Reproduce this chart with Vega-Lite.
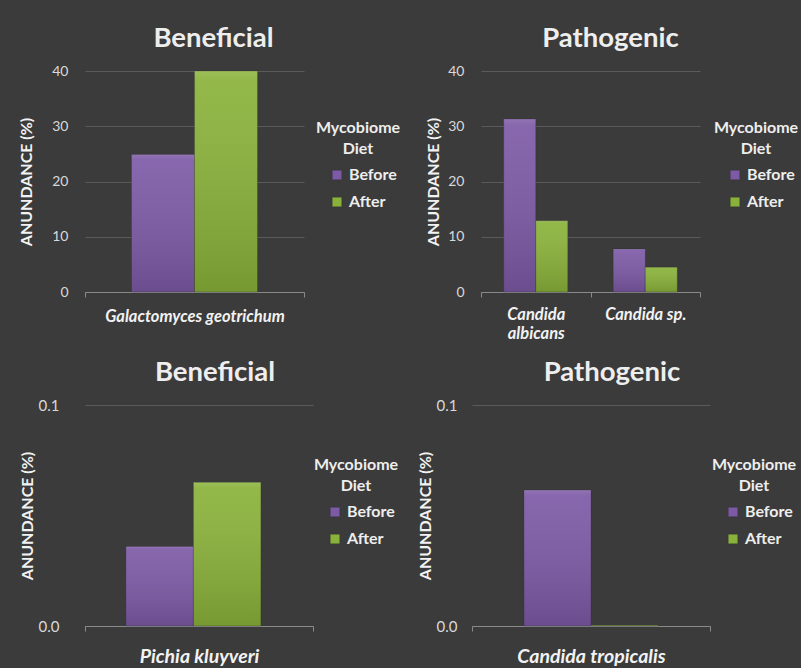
{
  "$schema": "https://vega.github.io/schema/vega-lite/v6.json",
  "background": "#3b3b3b",
  "padding": {"left": 18, "top": 24, "right": 2, "bottom": 2},
  "config": {
    "font": "Lato",
    "view": {"stroke": null},
    "title": {"fontSize": 27.5, "fontWeight": "bold", "color": "#eeeeee", "anchor": "middle", "offset": 12, "font": "Lato"},
    "axis": {"labelColor": "#d9d9d9", "labelFontSize": 14, "titleColor": "#f2f2f2", "titleFontSize": 16, "titleFontWeight": "bold", "gridColor": "#5a5a5a", "domainColor": "#8a8a8a", "tickColor": "#8a8a8a"},
    "axisX": {"tickBand": "extent", "tickSize": 5, "grid": false, "labelAngle": 0, "labelFontStyle": "italic", "labelFontWeight": "bold", "labelColor": "#f2f2f2", "title": null, "labelLimit": 300},
    "legend": {"titleColor": "#eeeeee", "labelColor": "#eeeeee", "titleFontSize": 16, "labelFontSize": 16, "labelFontWeight": "bold", "titleFontWeight": "bold", "symbolType": "square", "symbolSize": 90, "symbolStrokeWidth": 0, "titleAlign": "center", "titleAnchor": "middle", "rowPadding": 11, "titlePadding": 10, "titleLineHeight": 21, "orient": "none", "symbolOffset": 9, "labelOffset": 4},
    "bar": {"stroke": "#2a2a2a", "strokeWidth": 0.6, "strokeOpacity": 0.5}
  },
  "align": "none",
  "resolve": {"legend": {"color": "independent"}, "scale": {"x": "independent", "y": "independent", "color": "independent", "xOffset": "independent"}},
  "spacing": 16,
  "vconcat": [
    {
      "spacing": 24,
      "resolve": {"legend": {"color": "independent"}, "scale": {"x": "independent", "y": "independent", "color": "independent", "xOffset": "independent"}},
      "hconcat": [
        {
          "width": 219, "height": 221,
          "title": {"text": "Beneficial", "dx": 19},
          "data": {"values": [
            {"species": "Galactomyces geotrichum", "diet": "Before", "abundance": 24.9},
            {"species": "Galactomyces geotrichum", "diet": "After", "abundance": 40}
          ]},
          "encoding": {
            "x": {"field": "species", "type": "nominal", "scale": {"paddingInner": 0, "paddingOuter": 0},
              "axis": {"labelFontSize": 16.5, "labelPadding": 11}},
            "xOffset": {"field": "diet", "type": "nominal", "sort": ["Before", "After"], "scale": {"paddingInner": 0, "paddingOuter": 0.738}},
            "y": {"field": "abundance", "type": "quantitative", "scale": {"domain": [0, 40], "nice": false},
              "axis": {"title": "ANUNDANCE (%)", "values": [0, 10, 20, 30, 40], "domain": false, "ticks": false, "labelPadding": 17, "titlePadding": 17}}
          },
          "layer": [
            {"mark": "bar",
             "encoding": {"color": {"field": "diet", "type": "nominal", "sort": ["Before", "After"], "scale": {"domain": ["Before", "After"], "range": ["#7d5aa6", "#8ab23a"]},
              "legend": {"title": ["Mycobiome", "Diet"], "legendX": 231, "legendY": 49}}}},
            {"mark": {"type": "bar", "strokeWidth": 0, "fill": {"gradient": "linear", "x1": 0, "y1": 0, "x2": 0, "y2": 1, "stops": [{"offset": 0, "color": "rgba(255,255,255,0.16)"}, {"offset": 0.04, "color": "rgba(255,255,255,0.08)"}, {"offset": 1, "color": "rgba(0,0,0,0.14)"}]}}}
          ]
        },
        {
          "width": 219, "height": 221,
          "title": {"text": "Pathogenic", "dx": 20},
          "data": {"values": [
            {"species": "Candida albicans", "diet": "Before", "abundance": 31.3},
            {"species": "Candida albicans", "diet": "After", "abundance": 12.9},
            {"species": "Candida sp.", "diet": "Before", "abundance": 7.8},
            {"species": "Candida sp.", "diet": "After", "abundance": 4.5}
          ]},
          "encoding": {
            "x": {"field": "species", "type": "nominal", "scale": {"paddingInner": 0, "paddingOuter": 0},
              "axis": {"labelFontSize": 16.5, "labelPadding": 9,
                "labelExpr": "datum.label == 'Candida albicans' ? ['Candida', 'albicans'] : datum.label", "labelLineHeight": 19}},
            "xOffset": {"field": "diet", "type": "nominal", "sort": ["Before", "After"], "scale": {"paddingInner": 0, "paddingOuter": 0.71}},
            "y": {"field": "abundance", "type": "quantitative", "scale": {"domain": [0, 40], "nice": false},
              "axis": {"title": "ANUNDANCE (%)", "values": [0, 10, 20, 30, 40], "domain": false, "ticks": false, "labelPadding": 17, "titlePadding": 6}}
          },
          "layer": [
            {"mark": "bar",
             "encoding": {"color": {"field": "diet", "type": "nominal", "sort": ["Before", "After"], "scale": {"domain": ["Before", "After"], "range": ["#7d5aa6", "#8ab23a"]},
              "legend": {"title": ["Mycobiome", "Diet"], "legendX": 233, "legendY": 49}}}},
            {"mark": {"type": "bar", "strokeWidth": 0, "fill": {"gradient": "linear", "x1": 0, "y1": 0, "x2": 0, "y2": 1, "stops": [{"offset": 0, "color": "rgba(255,255,255,0.16)"}, {"offset": 0.04, "color": "rgba(255,255,255,0.08)"}, {"offset": 1, "color": "rgba(0,0,0,0.14)"}]}}}
          ]
        }
      ]
    },
    {
      "spacing": 18,
      "resolve": {"legend": {"color": "independent"}, "scale": {"x": "independent", "y": "independent", "color": "independent", "xOffset": "independent"}},
      "hconcat": [
        {
          "width": 228, "height": 221,
          "title": {"text": "Beneficial", "dx": 16},
          "data": {"values": [
            {"species": "Pichia kluyveri", "diet": "Before", "abundance": 0.036},
            {"species": "Pichia kluyveri", "diet": "After", "abundance": 0.065}
          ]},
          "encoding": {
            "x": {"field": "species", "type": "nominal", "scale": {"paddingInner": 0, "paddingOuter": 0},
              "axis": {"labelFontSize": 19.5, "labelPadding": 16, "labelAlign": "center", "labelDx": -8}},
            "xOffset": {"field": "diet", "type": "nominal", "sort": ["Before", "After"], "scale": {"paddingInner": 0, "paddingOuter": 0.689, "align": 0.44}},
            "y": {"field": "abundance", "type": "quantitative", "scale": {"domain": [0, 0.1], "nice": false},
              "axis": {"title": "ANUNDANCE (%)", "values": [0, 0.1], "format": ".1f", "labelFontSize": 15, "domain": false, "ticks": false, "labelPadding": 26, "titlePadding": 3}}
          },
          "layer": [
            {"mark": "bar",
             "encoding": {"color": {"field": "diet", "type": "nominal", "sort": ["Before", "After"], "scale": {"domain": ["Before", "After"], "range": ["#7d5aa6", "#8ab23a"]},
              "legend": {"title": ["Mycobiome", "Diet"], "legendX": 229, "legendY": 52}}}},
            {"mark": {"type": "bar", "strokeWidth": 0, "fill": {"gradient": "linear", "x1": 0, "y1": 0, "x2": 0, "y2": 1, "stops": [{"offset": 0, "color": "rgba(255,255,255,0.16)"}, {"offset": 0.04, "color": "rgba(255,255,255,0.08)"}, {"offset": 1, "color": "rgba(0,0,0,0.14)"}]}}}
          ]
        },
        {
          "width": 238, "height": 221,
          "title": {"text": "Pathogenic", "dx": 21},
          "data": {"values": [
            {"species": "Candida tropicalis", "diet": "Before", "abundance": 0.0615},
            {"species": "Candida tropicalis", "diet": "After", "abundance": 0.0003}
          ]},
          "encoding": {
            "x": {"field": "species", "type": "nominal", "scale": {"paddingInner": 0, "paddingOuter": 0},
              "axis": {"labelFontSize": 19.5, "labelPadding": 16}},
            "xOffset": {"field": "diet", "type": "nominal", "sort": ["Before", "After"], "scale": {"paddingInner": 0, "paddingOuter": 0.776}},
            "y": {"field": "abundance", "type": "quantitative", "scale": {"domain": [0, 0.1], "nice": false},
              "axis": {"title": "ANUNDANCE (%)", "values": [0, 0.1], "format": ".1f", "labelFontSize": 15, "domain": false, "ticks": false, "labelPadding": 15, "titlePadding": 3}}
          },
          "layer": [
            {"mark": "bar",
             "encoding": {"color": {"field": "diet", "type": "nominal", "sort": ["Before", "After"], "scale": {"domain": ["Before", "After"], "range": ["#7d5aa6", "#8ab23a"]},
              "legend": {"title": ["Mycobiome", "Diet"], "legendX": 240, "legendY": 52}}}},
            {"mark": {"type": "bar", "strokeWidth": 0, "fill": {"gradient": "linear", "x1": 0, "y1": 0, "x2": 0, "y2": 1, "stops": [{"offset": 0, "color": "rgba(255,255,255,0.16)"}, {"offset": 0.04, "color": "rgba(255,255,255,0.08)"}, {"offset": 1, "color": "rgba(0,0,0,0.14)"}]}}}
          ]
        }
      ]
    }
  ]
}
